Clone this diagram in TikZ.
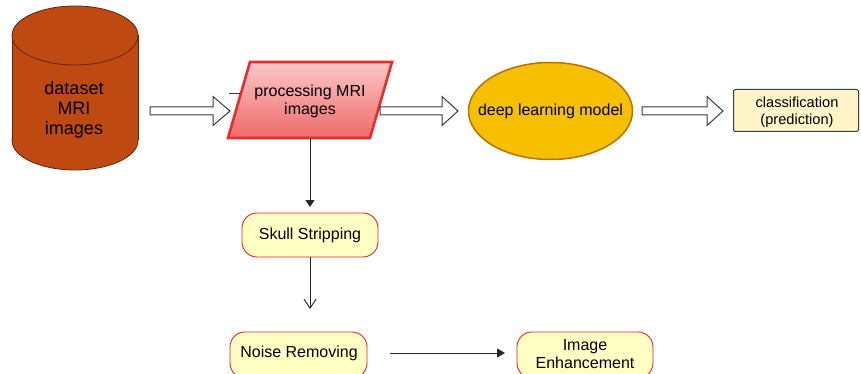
\documentclass[tikz,border=0pt]{standalone}
\usepackage{fontspec}
\setmainfont{Liberation Sans}
\usetikzlibrary{arrows.meta,calc,shapes.geometric}
\definecolor{rust}{RGB}{190,74,18}
\definecolor{rustdark}{RGB}{105,35,5}
\definecolor{pinktop}{RGB}{250,200,200}
\definecolor{pinkbot}{RGB}{240,105,105}
\definecolor{redline}{RGB}{228,45,45}
\definecolor{gold}{RGB}{246,192,0}
\definecolor{golddark}{RGB}{185,115,0}
\definecolor{paleyellow}{RGB}{255,255,195}
\definecolor{cream}{RGB}{255,245,200}
\definecolor{boxred}{RGB}{222,40,40}
\definecolor{greyline}{RGB}{60,60,60}
\tikzset{
  txt/.style={align=center,text=black,inner sep=0pt},
  f16/.style={font=\fontsize{16}{17.5}\selectfont},
  roundbox/.style={draw=boxred,fill=paleyellow,line width=0.9pt,rounded corners=15pt},
  harrow/.style={draw=greyline,fill=white,line width=1pt,line join=miter},
  thinarrow/.style={draw=black!85,line width=0.9pt},
}
\newcommand{\hollowarrow}[3]{%
  \path[harrow] let \p1=(#1), \p2=(#2) in
    (\x1,\y1+4pt) -- (\x2-#3,\y1+4pt) -- (\x2-#3,\y1+14.5pt) -- (\x2,\y1)
    -- (\x2-#3,\y1-14.5pt) -- (\x2-#3,\y1-4pt) -- (\x1,\y1-4pt) -- cycle;}
\begin{document}
\begin{tikzpicture}[x=1pt,y=-1pt]
\useasboundingbox (0,0) rectangle (861,374);
\fill[white] (0,0) rectangle (861,374);
\clip (0,0) rectangle (861,374);

% cylinder
\filldraw[fill=rust,draw=rustdark,line width=0.8pt] (75,140.5) ellipse [x radius=63,y radius=29.5];
\fill[rust] (12,35.5) rectangle (138,140.5);
\draw[rustdark,line width=0.8pt] (12,35.5) -- (12,140.5) (138,35.5) -- (138,140.5);
\filldraw[fill=rust,draw=rustdark,line width=0.8pt] (75,35.5) ellipse [x radius=63,y radius=29.5];
\node[txt,font=\fontsize{18}{20}\selectfont] (data) at (74,110) {dataset\\MRI\\images};

% parallelogram
\coordinate (p1) at (250,62);
\coordinate (p2) at (392,62);
\coordinate (p3) at (370,138);
\coordinate (p4) at (228,138);
\path[top color=pinktop,bottom color=pinkbot,draw=redline,line width=2.6pt,line join=miter]
  (p1) -- (p2) -- (p3) -- (p4) -- cycle;
\node[txt,f16] (proc) at (310,101.5) {processing MRI\\images};
\coordinate (tickA) at (229,93);
\coordinate (tickB) at (240,93);
\draw[greyline,line width=0.8pt] (tickA) -- (tickB);

% ellipse
\node[draw=golddark,fill=gold,line width=1.5pt,ellipse,minimum width=164pt,minimum height=97pt,inner sep=0pt] (dl) at (550.5,111) {};
\node[txt,f16] at (dl.center) {deep learning model};

% classification
\node[draw=greyline,fill=cream,line width=1pt,rounded corners=2pt,minimum width=125pt,minimum height=42pt,inner sep=0pt] (cls) at (796,110.5) {};
\node[txt,font=\fontsize{14.6}{17}\selectfont] at (797,112) {classification\\(prediction)};

% hollow arrows
\coordinate (h1s) at (150,111);
\coordinate (h1e) at (230,111);
\coordinate (h2s) at (380,111);
\coordinate (h2e) at (458,111);
\coordinate (h3s) at (642,111);
\coordinate (h3e) at (723,111);
\hollowarrow{h1s}{h1e}{17pt}
\hollowarrow{h2s}{h2e}{16pt}
\hollowarrow{h3s}{h3e}{16pt}

% lower boxes
\node[roundbox,minimum width=136pt,minimum height=44pt,inner sep=0pt] (skull) at (310,235) {};
\node[txt,f16] at (skull.center) {Skull Stripping};
\node[roundbox,minimum width=137pt,minimum height=46pt,inner sep=0pt] (noise) at (298.5,355) {};
\node[txt,f16] at (299,353) {Noise Removing};
\node[roundbox,minimum width=136pt,minimum height=46pt,inner sep=0pt] (enh) at (585,355) {};
\node[txt,f16] at (585,354) {Image\\Enhancement};

% connectors
\coordinate (c1s) at (310,138);
\coordinate (c1e) at (310,207);
\draw[thinarrow,-{Triangle[length=7pt,width=9pt]}] (c1s) -- (c1e);
\coordinate (c2s) at (310,257);
\coordinate (c2e) at (310,309);
\draw[thinarrow,-{Straight Barb[length=9pt,width=12pt,line width=0.9pt]}] (c2s) -- (c2e);
\coordinate (c3s) at (390,353);
\coordinate (c3e) at (505,353);
\draw[thinarrow,-{Triangle[length=8pt,width=9pt]}] (c3s) -- (c3e);
\end{tikzpicture}
\end{document}
